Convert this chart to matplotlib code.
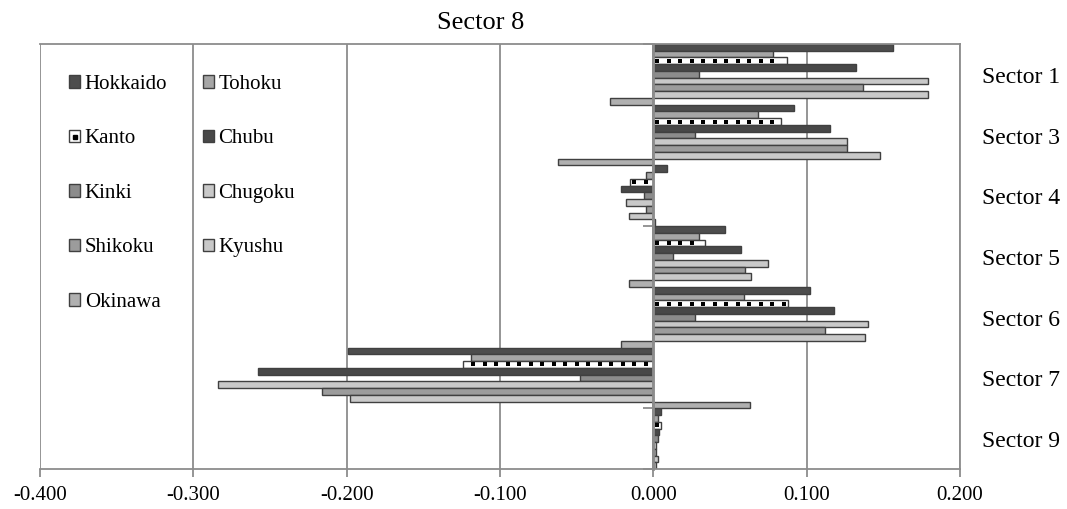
import numpy as np
import matplotlib.pyplot as plt
from matplotlib.patches import Rectangle
from matplotlib.lines import Line2D

plt.rcParams['font.family'] = ['Liberation Serif', 'DejaVu Serif']

sectors = ['Sector 1', 'Sector 3', 'Sector 4', 'Sector 5', 'Sector 6', 'Sector 7', 'Sector 9']
regions = ['Hokkaido', 'Tohoku', 'Kanto', 'Chubu', 'Kinki',
           'Chugoku', 'Shikoku', 'Kyushu', 'Okinawa']

hokkaido = [0.156, 0.092, 0.009, 0.047, 0.102, -0.199, 0.005]
tohoku = [0.078, 0.068, -0.005, 0.030, 0.059, -0.119, 0.003]
kanto = [0.087, 0.083, -0.015, 0.034, 0.088, -0.124, 0.005]
chubu = [0.132, 0.115, -0.021, 0.057, 0.118, -0.258, 0.004]
kinki = [0.030, 0.027, -0.006, 0.013, 0.027, -0.048, 0.003]
chugoku = [0.179, 0.126, -0.018, 0.075, 0.140, -0.284, 0.002]
shikoku = [0.137, 0.126, -0.005, 0.060, 0.112, -0.216, 0.002]
kyushu = [0.179, 0.148, -0.016, 0.064, 0.138, -0.198, 0.003]
okinawa = [-0.028, -0.062, 0.001, -0.016, -0.021, 0.063, 0.002]

values = [hokkaido, tohoku, kanto, chubu, kinki, chugoku, shikoku, kyushu, okinawa]
fills = ['#4d4d4d', '#a6a6a6', '#ffffff', '#484848', '#8c8c8c',
         '#c9c9c9', '#9c9c9c', '#c9c9c9', '#b0b0b0']
edge = '#404040'
axis_grey = '#8c8c8c'

fig = plt.figure(figsize=(10.67, 5.09), dpi=100)
ax = fig.add_axes([40 / 1067, 1 - 469 / 509, 920 / 1067, 425 / 509])

n = len(regions)
h = 1.0 / n
y = np.arange(len(sectors))
handles = []
for i, (name, vals, fc) in enumerate(zip(regions, values, fills)):
    pos = y - 0.5 + (i + 0.5) * h
    ax.barh(pos, vals, height=h, color=fc, edgecolor=edge, linewidth=1.0, zorder=2)
    patch = Rectangle((0, 0), 1, 1, facecolor=fc, edgecolor=edge, linewidth=1.0)
    if name == 'Kanto':
        # dotted pattern inside the white bars
        grid = 0.0027 + 0.0075 * np.arange(-60, 40)
        for p, v in zip(pos, vals):
            lo, hi = min(0, v), max(0, v)
            inside = grid[(grid > lo + 0.002) & (grid < hi - 0.002)]
            ax.scatter(inside, np.full_like(inside, p), marker='s', s=5,
                       color='black', linewidths=0, zorder=3)
        dot = Line2D([], [], marker='s', ms=2.2, color='black', ls='')
        handles.append((patch, dot))
    else:
        handles.append(patch)

xticks = np.round(np.arange(-0.4, 0.201, 0.1), 1)
ax.set_xlim(-0.4, 0.2)
ax.set_ylim(len(sectors) - 0.5, -0.5)
ax.set_xticks(xticks)
ax.set_xticklabels(['%.3f' % (t + 0.0) for t in xticks], fontsize=15)
ax.set_yticks(np.arange(-0.5, len(sectors), 1))
ax.set_yticklabels([])
ax.tick_params(axis='x', direction='out', length=6, width=1.3, color=axis_grey, pad=6)
ax.tick_params(axis='y', direction='out', length=7, width=1.3, color=axis_grey)
ax.set_axisbelow(True)
ax.xaxis.grid(True, color=axis_grey, linewidth=1.3)

ax.spines['left'].set_position(('data', 0))
ax.spines['left'].set_color(axis_grey)
ax.spines['left'].set_linewidth(2)
for side in ['top', 'right', 'bottom']:
    ax.spines[side].set_color(axis_grey)
    ax.spines[side].set_linewidth(1.3)

# category names sit to the right of the plot area
for k, s in enumerate(sectors):
    ax.text(1.024, k + 0.05, s, transform=ax.get_yaxis_transform(),
            ha='left', va='center', fontsize=17)

fig.text(481 / 1067, 1 - 29 / 509, 'Sector 8', ha='center', va='baseline', fontsize=19)

order = [0, 2, 4, 6, 8, 1, 3, 5, 7]
ax.legend([handles[i] for i in order], [regions[i] for i in order],
          ncol=2, frameon=False, loc='upper left',
          bbox_to_anchor=(69 / 1067, 1 - 75 / 509), bbox_transform=fig.transFigure,
          borderpad=0, borderaxespad=0, fontsize=15,
          handlelength=0.55, handleheight=0.55, handletextpad=0.2,
          labelspacing=1.7, columnspacing=1.7)

fig.savefig('out.png', dpi=100)
